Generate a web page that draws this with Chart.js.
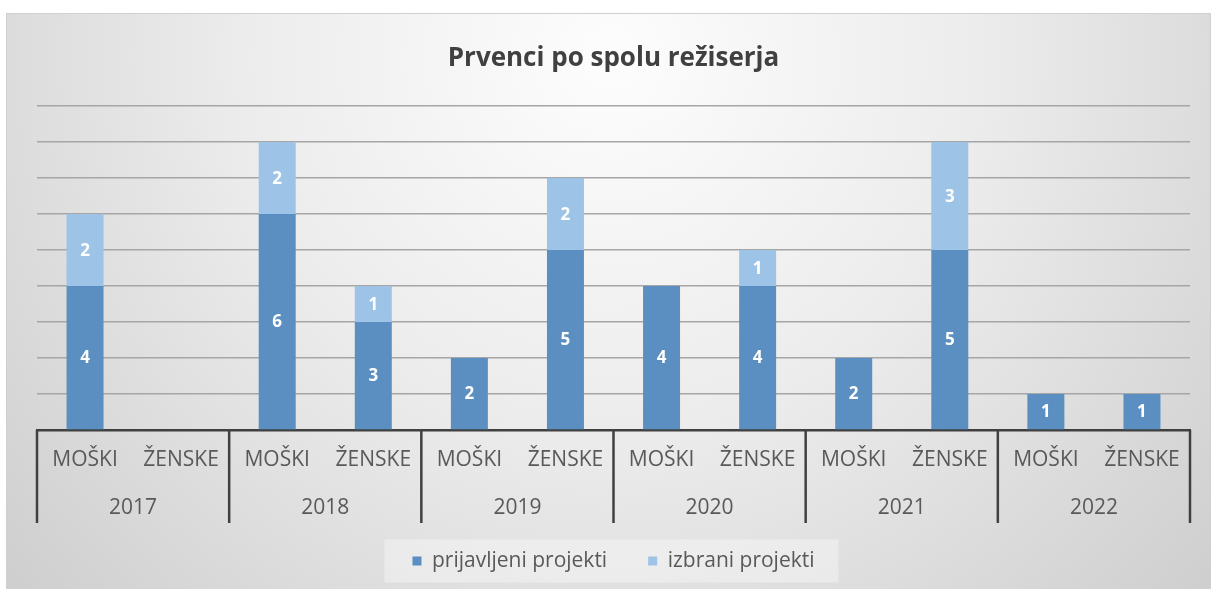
<!DOCTYPE html>
<html><head><meta charset="utf-8">
<script src="https://cdn.jsdelivr.net/npm/chart.js@4.4.0/dist/chart.umd.min.js"></script>
<style>html,body{margin:0;padding:0;background:#fff}#wrap{width:1217px;height:589px}</style>
</head><body><div id="wrap"><canvas id="c" width="1217" height="589"></canvas></div>
<script>
const years = ['2017', '2018', '2019', '2020', '2021', '2022'];
const genders = ['MOŠKI', 'ŽENSKE'];
const categories = [];
years.forEach(y => genders.forEach(g => categories.push([g, y])));
const prijavljeni = [4, 0, 6, 3, 2, 5, 4, 4, 2, 5, 1, 1];
const izbrani     = [2, 0, 2, 1, 0, 2, 0, 1, 0, 3, 0, 0];
const seriesNames = ['prijavljeni projekti', 'izbrani projekti'];
const yTicks = [0, 1, 2, 3, 4, 5, 6, 7, 8, 9];

const FONT = "'Open Sans', 'DejaVu Sans', sans-serif";
const TEXT = '#595959';

const bgPlugin = {
  id: 'bg',
  beforeDraw(chart) {
    const ctx = chart.ctx;
    ctx.save();
    ctx.fillStyle = '#ffffff';
    ctx.fillRect(0, 0, chart.width, chart.height);
    const g = ctx.createRadialGradient(610, 60, 0, 610, 60, 820);
    g.addColorStop(0, '#fdfdfd');
    g.addColorStop(0.45, '#ececec');
    g.addColorStop(1, '#cdcdcd');
    ctx.fillStyle = g;
    ctx.fillRect(6, 13, 1205, 576);
    ctx.strokeStyle = '#d0d0d0';
    ctx.lineWidth = 1;
    ctx.strokeRect(6.5, 13.5, 1204, 580);
    // legend backdrop
    const lg = chart.legend;
    if (lg && lg.legendHitBoxes && lg.legendHitBoxes.length) {
      const hb = lg.legendHitBoxes;
      const l = hb[0].left - 28;
      const r = hb[hb.length - 1].left + hb[hb.length - 1].width + 24;
      const t = hb[0].top - 11;
      ctx.fillStyle = 'rgba(255,255,255,0.35)';
      ctx.fillRect(l, t, r - l, 43);
    }
    ctx.restore();
  }
};

const labelPlugin = {
  id: 'vals',
  afterDatasetsDraw(chart) {
    const ctx = chart.ctx;
    ctx.save();
    ctx.font = "bold 17px " + FONT;
    ctx.fillStyle = '#ffffff';
    ctx.textAlign = 'center';
    ctx.textBaseline = 'middle';
    chart.data.datasets.forEach((ds, di) => {
      const meta = chart.getDatasetMeta(di);
      meta.data.forEach((el, i) => {
        const v = ds.data[i];
        if (!v) return;
        ctx.fillText(String(v), el.x, (el.y + el.base) / 2 + 1);
      });
    });
    ctx.restore();
  }
};

const groupPlugin = {
  id: 'groups',
  afterDraw(chart) {
    const ctx = chart.ctx;
    const xs = chart.scales.x;
    const bottom = chart.chartArea.bottom;
    const step = xs.getPixelForValue(1) - xs.getPixelForValue(0);
    ctx.save();
    ctx.strokeStyle = '#404040';
    ctx.lineWidth = 2.5;
    for (let i = 0; i <= years.length; i++) {
      const x = i < years.length ? xs.getPixelForValue(i * 2) - step / 2
                                 : xs.getPixelForValue(i * 2 - 1) + step / 2;
      ctx.beginPath();
      ctx.moveTo(x, bottom);
      ctx.lineTo(x, 523);
      ctx.stroke();
    }
    ctx.font = "21px " + FONT;
    ctx.fillStyle = TEXT;
    ctx.textAlign = 'center';
    ctx.textBaseline = 'middle';
    years.forEach((y, i) => {
      const cx = (xs.getPixelForValue(i * 2) + xs.getPixelForValue(i * 2 + 1)) / 2;
      ctx.fillText(y, cx, 508);
    });
    ctx.restore();
  }
};

new Chart(document.getElementById('c'), {
  type: 'bar',
  data: {
    labels: categories,
    datasets: [
      { label: seriesNames[0], data: prijavljeni, backgroundColor: '#5b8fc2',
        categoryPercentage: 1, barPercentage: 0.385 },
      { label: seriesNames[1], data: izbrani, backgroundColor: '#9dc3e6',
        categoryPercentage: 1, barPercentage: 0.385 }
    ]
  },
  options: {
    responsive: false,
    animation: false,
    layout: { padding: { left: 37, right: 27, top: 0, bottom: 7.5 } },
    plugins: {
      title: {
        display: true,
        text: 'Prvenci po spolu režiserja',
        color: '#404040',
        font: { family: FONT, size: 26, weight: 'bold' },
        padding: { top: 43, bottom: 31.8 }
      },
      legend: {
        position: 'bottom',
        labels: {
          boxWidth: 9, boxHeight: 9, padding: 41,
          color: TEXT,
          font: { family: FONT, size: 21 }
        }
      },
      tooltip: { enabled: false }
    },
    scales: {
      x: {
        stacked: true,
        grid: { display: false, drawTicks: false },
        border: { display: true, color: '#404040', width: 2.5 },
        ticks: {
          color: TEXT, font: { family: FONT, size: 21 }, padding: 17,
          maxRotation: 0, autoSkip: false,
          callback: (v, i) => categories[i][0]
        },
        afterFit: s => { s.height = 79.5; }
      },
      y: {
        stacked: true,
        min: yTicks[0], max: yTicks[yTicks.length - 1],
        afterBuildTicks: s => { s.ticks = yTicks.map(v => ({ value: v })); },
        ticks: { display: false },
        grid: { color: '#a6a6a6', lineWidth: 1.5, drawTicks: false },
        border: { display: false }
      }
    }
  },
  plugins: [bgPlugin, labelPlugin, groupPlugin]
});
</script>
</body></html>
